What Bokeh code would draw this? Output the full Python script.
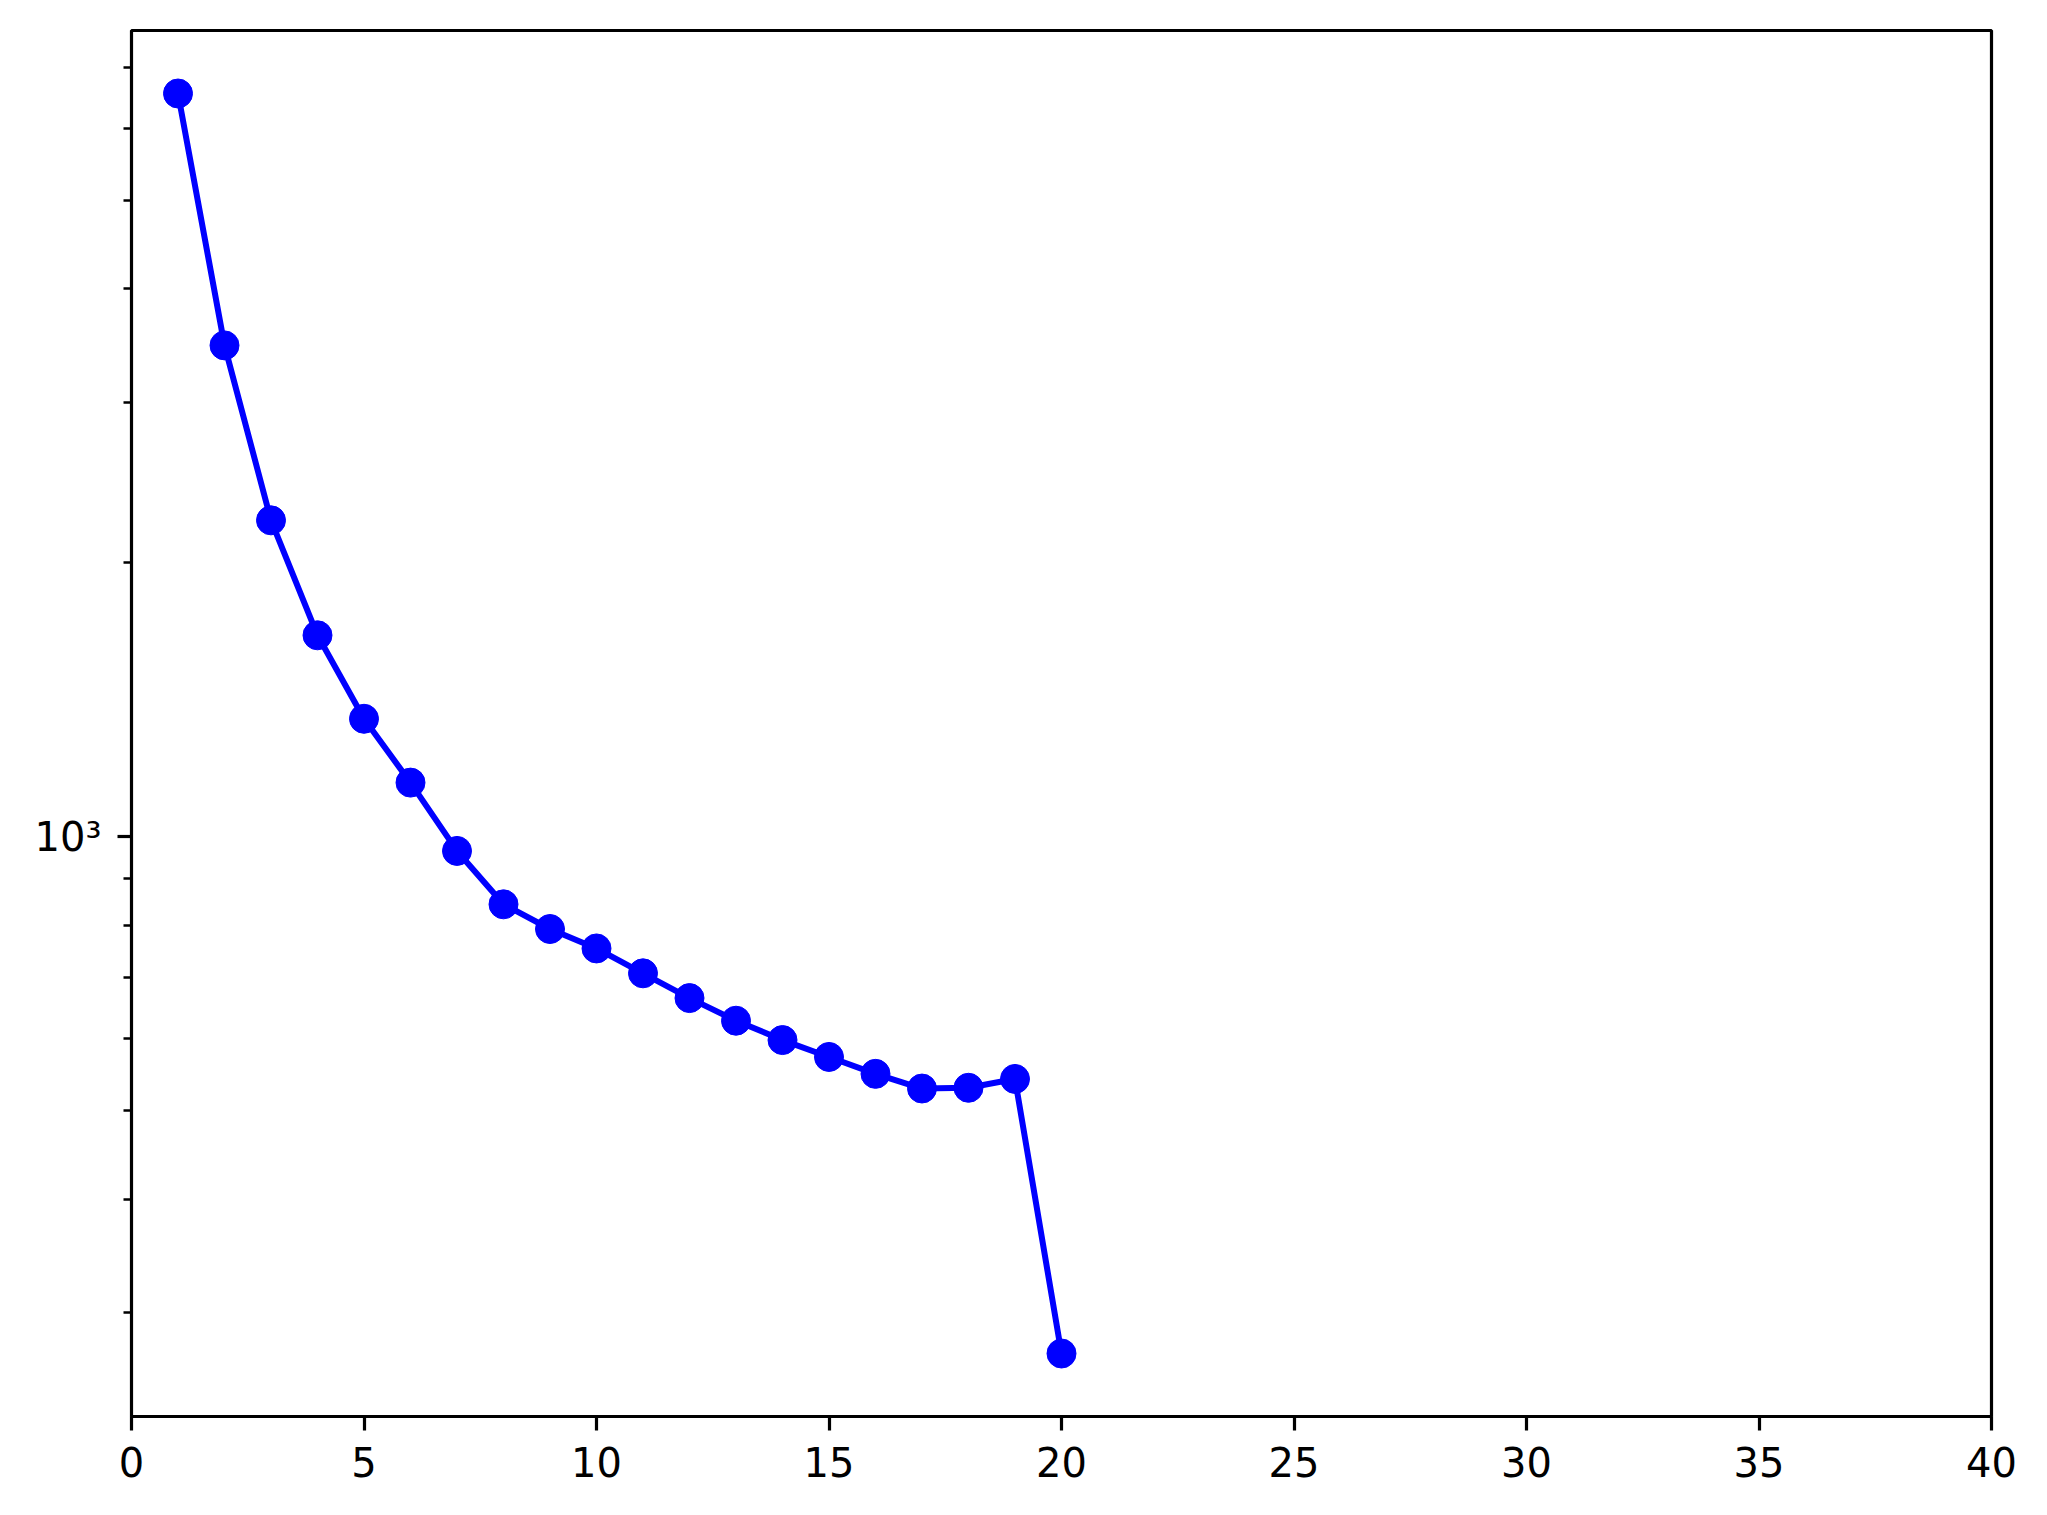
import math
from bokeh.plotting import figure
from bokeh.models import FixedTicker, Range1d
from bokeh.embed import file_html
from bokeh.resources import INLINE

# data
iterations = list(range(1, 21))
values = [6557, 3467, 2227, 1665, 1348, 1147, 965, 843, 792, 754,
          708, 665, 628, 598, 573, 549, 529, 530, 542, 270.6]

x_ticks = [0, 5, 10, 15, 20, 25, 30, 35, 40]
y_major_ticks = [1000]
y_minor_ticks = [200, 300, 400, 500, 600, 700, 800, 900,
                 2000, 3000, 4000, 5000, 6000, 7000, 8000, 9000]

# log range with 5% margins (like matplotlib autoscale)
lo = math.log10(min(values))
hi = math.log10(max(values))
m = 0.05 * (hi - lo)
y_range = Range1d(10 ** (lo - m), 10 ** (hi + m))

p = figure(width=2039, height=1507, output_backend="svg", toolbar_location=None,
           y_axis_type="log", x_range=Range1d(0, 40), y_range=y_range,
           min_border_left=131, min_border_right=48, min_border_top=30,
           min_border_bottom=91)

p.background_fill_color = "white"
p.border_fill_color = "white"
p.outline_line_color = "black"
p.outline_line_width = 3.2
p.xgrid.visible = False
p.ygrid.visible = False

p.line(iterations, values, line_color="#0000ff", line_width=6)
p.scatter(iterations, values, size=29, fill_color="#0000ff", line_color="#0000ff")

FONT = "DejaVu Sans"
xa = p.xaxis[0]
xa.ticker = FixedTicker(ticks=x_ticks)
xa.axis_line_color = None
xa.major_tick_out = 14
xa.major_tick_in = 0
xa.major_tick_line_width = 3.2
xa.minor_tick_line_color = None
xa.major_label_text_font = FONT
xa.major_label_text_font_size = "40px"
xa.major_label_standoff = 16
xa.major_label_text_color = "black"

ya = p.yaxis[0]
ya.ticker = FixedTicker(ticks=y_major_ticks, minor_ticks=y_minor_ticks)
ya.axis_line_color = None
ya.major_tick_out = 14
ya.major_tick_in = 0
ya.major_tick_line_width = 3.2
ya.minor_tick_out = 8
ya.minor_tick_in = 0
ya.minor_tick_line_width = 2.4
ya.major_label_overrides = {1000: "10³"}
ya.major_label_text_font = FONT
ya.major_label_text_font_size = "40px"
ya.major_label_standoff = 16
ya.major_label_text_color = "black"

open("out.html", "w").write(file_html(p, INLINE))
